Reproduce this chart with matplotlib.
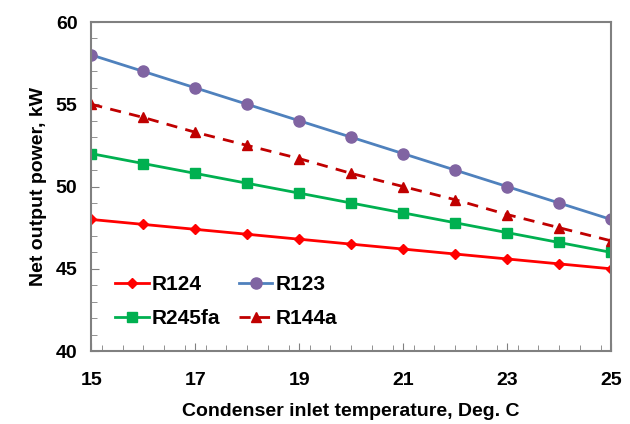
import numpy as np
import matplotlib.pyplot as plt
from matplotlib.ticker import MultipleLocator, FixedLocator

temp = [15, 16, 17, 18, 19, 20, 21, 22, 23, 24, 25]
r124 = [48.0, 47.7, 47.4, 47.1, 46.8, 46.5, 46.2, 45.9, 45.6, 45.3, 45.0]
r123 = [58, 57, 56, 55, 54, 53, 52, 51, 50, 49, 48]
r245fa = [52.0, 51.4, 50.8, 50.2, 49.6, 49.0, 48.4, 47.8, 47.2, 46.6, 46.0]
r144a = [55.0, 54.2, 53.3, 52.5, 51.7, 50.8, 50.0, 49.2, 48.3, 47.5, 46.7]
xticks = [15, 17, 19, 21, 23, 25]

plt.rcParams['font.family'] = ['Liberation Sans', 'DejaVu Sans']
plt.rcParams['font.weight'] = 'bold'

fig = plt.figure(figsize=(6.3, 4.24), dpi=100)
ax = fig.add_axes([0.145, 0.172, 0.825, 0.776])

l1, = ax.plot(temp, r124, '-D', color='#FF0000', ms=5, lw=2, label='R124')
l2, = ax.plot(temp, r123, '-o', color='#4F81BD', mfc='#8064A2', mec='#8064A2', ms=8, lw=2, label='R123')
l3, = ax.plot(temp, r245fa, '-s', color='#00B050', ms=7, lw=2, label='R245fa')
l4, = ax.plot(temp, r144a, '--^', color='#C00000', ms=7.5, lw=2, dashes=(4, 3), label='R144a')

ax.set_xlim(15, 25)
ax.set_ylim(40, 60)
ax.xaxis.set_major_locator(FixedLocator(xticks))
ax.xaxis.set_minor_locator(MultipleLocator(0.4))
ax.yaxis.set_major_locator(MultipleLocator(5))
ax.yaxis.set_minor_locator(MultipleLocator(1))
ax.tick_params(which='both', direction='in', color='#808080')
ax.tick_params(which='major', length=6, labelsize=14)
ax.tick_params(which='minor', length=4)
ax.tick_params(axis='x', pad=15)
ax.tick_params(axis='y', pad=10)
for s in ax.spines.values():
    s.set_color('#808080')
    s.set_linewidth(1.5)

ax.set_xlabel('Condenser inlet temperature, Deg. C', fontsize=14, fontweight='bold', labelpad=10)
ax.set_ylabel('Net output power, kW', fontsize=14, fontweight='bold', labelpad=6)

# row-wise order like the original: R124 R123 / R245fa R144a
ax.legend([l1, l3, l2, l4], ['R124', 'R245fa', 'R123', 'R144a'], ncol=2,
          loc='lower left', bbox_to_anchor=(0.03, 0.045), frameon=False,
          fontsize=15, handlelength=1.6, handletextpad=0.15, columnspacing=0.9,
          labelspacing=0.7, borderaxespad=0)

fig.savefig('out.png', dpi=100)
